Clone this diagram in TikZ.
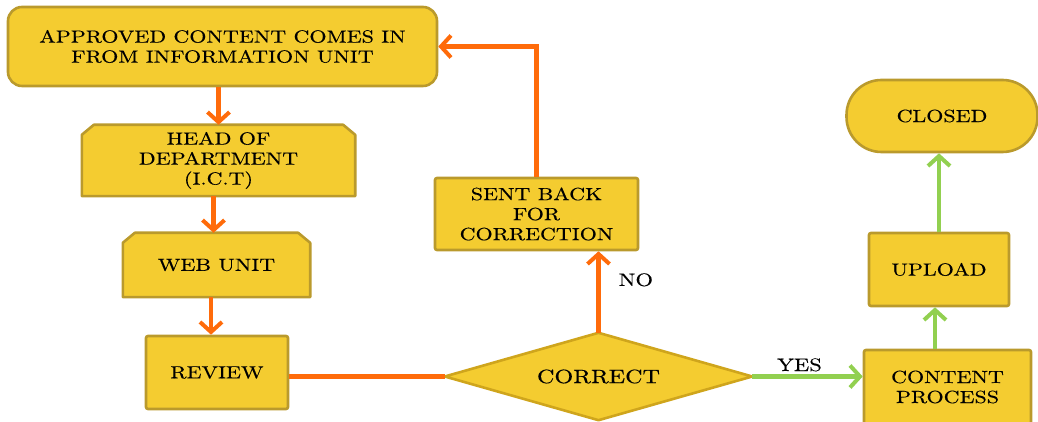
\documentclass[tikz,border=0pt]{standalone}
\usepackage{fontspec}
\setmainfont{lmroman10-regular.otf}[FakeStretch=1.25, FakeBold=0.3]
\usetikzlibrary{arrows.meta,backgrounds,calc}

\definecolor{boxfill}{HTML}{F4CC30}
\definecolor{boxedge}{HTML}{BA9A2C}
\definecolor{diaedge}{HTML}{CFA51C}
\definecolor{flowor}{HTML}{FF6B0A}
\definecolor{flowgr}{HTML}{92D050}

\tikzset{
  x=1pt, y=1pt,
  txt/.style={font=\fontsize{17.6}{20}\selectfont, align=center, text=black},
  box/.style={txt, draw=boxedge, fill=boxfill, line width=2.6pt, rounded corners=2pt, inner sep=0pt},
  plainnode/.style={txt, inner sep=0pt},
  chamfill/.style={draw=boxedge, fill=boxfill, line width=2.6pt, line join=round},
  diafill/.style={draw=diaedge, fill=boxfill, line width=2.6pt, line join=round},
  tip/.style={-{Straight Barb[length=10pt,width=22pt,line width=4pt]}},
  oline/.style={draw=flowor, line width=4.2pt},
  oarr/.style={oline, tip},
  garr/.style={draw=flowgr, line width=4.2pt, tip},
  lbl/.style={font=\fontsize{18}{20}\selectfont, inner sep=0pt}
}

\begin{document}
\begin{tikzpicture}
\useasboundingbox (0,0) rectangle (1038,422);

% process boxes
\node[box, rounded corners=14pt, minimum width=429pt, minimum height=79pt] (approved) at (222.5,375.5)
  {APPROVED CONTENT COMES IN\\FROM INFORMATION UNIT};
\node[plainnode, minimum width=273pt, minimum height=71pt] (head) at (218.5,261.5)
  {HEAD OF\\DEPARTMENT\\(I.C.T)};
\node[plainnode, minimum width=187pt, minimum height=64pt] (web) at (216.5,157) {WEB UNIT};
\node[box, minimum width=142pt, minimum height=73pt] (review) at (217,49.5) {REVIEW};
\node[plainnode, minimum width=307pt, minimum height=87pt, font=\fontsize{19.3}{21}\selectfont]
  (correct) at (598.5,45.5) {CORRECT};
\node[box, minimum width=203pt, minimum height=72pt] (sent) at (536.5,208)
  {SENT BACK\\FOR\\CORRECTION};
\node[box, rounded corners=35pt, minimum width=191pt, minimum height=72pt] (closed) at (942,306) {CLOSED};
\node[box, minimum width=140pt, minimum height=73pt] (upload) at (939,152.5) {UPLOAD};
\node[box, minimum width=167pt, minimum height=74pt] (content) at (947.5,35) {CONTENT\\PROCESS};

% outlines drawn behind the text of the shaped nodes
\begin{scope}[on background layer]
  \foreach \n in {head,web}{
    \path[chamfill] (\n.south west) -- ($(\n.north west)+(0,-10)$) -- ($(\n.north west)+(12,0)$)
      -- ($(\n.north east)+(-12,0)$) -- ($(\n.north east)+(0,-10)$) -- (\n.south east) -- cycle;
  }
  \path[diafill] (correct.west) -- (correct.north) -- (correct.east) -- (correct.south) -- cycle;
\end{scope}

% orange flow
\draw[oarr] (head.north |- approved.south) -- (head.north);
\draw[oarr] ($(web.north |- head.south)+(-3,0)$) -- ($(web.north)+(-3,0)$);
\draw[oarr] ($(review.north |- web.south)+(-6,0)$) -- ($(review.north)+(-6,0)$);
\draw[oline] (review.east |- correct.west) -- (correct.west);
\draw[oarr] (correct.north) -- (correct.north |- sent.south)
  node[lbl, pos=0.65, right=18pt] {NO};
\draw[oarr] (sent.north) |- (approved.east);

% green flow
\draw[garr] (correct.east) -- (content.west |- correct.east)
  node[lbl, midway, above=3pt, xshift=-8pt] {YES};
\draw[garr] ($(upload.south |- content.north)+(-4,0)$) -- ($(upload.south)+(-4,0)$);
\draw[garr] (upload.north) -- (upload.north |- closed.south);
\end{tikzpicture}
\end{document}
